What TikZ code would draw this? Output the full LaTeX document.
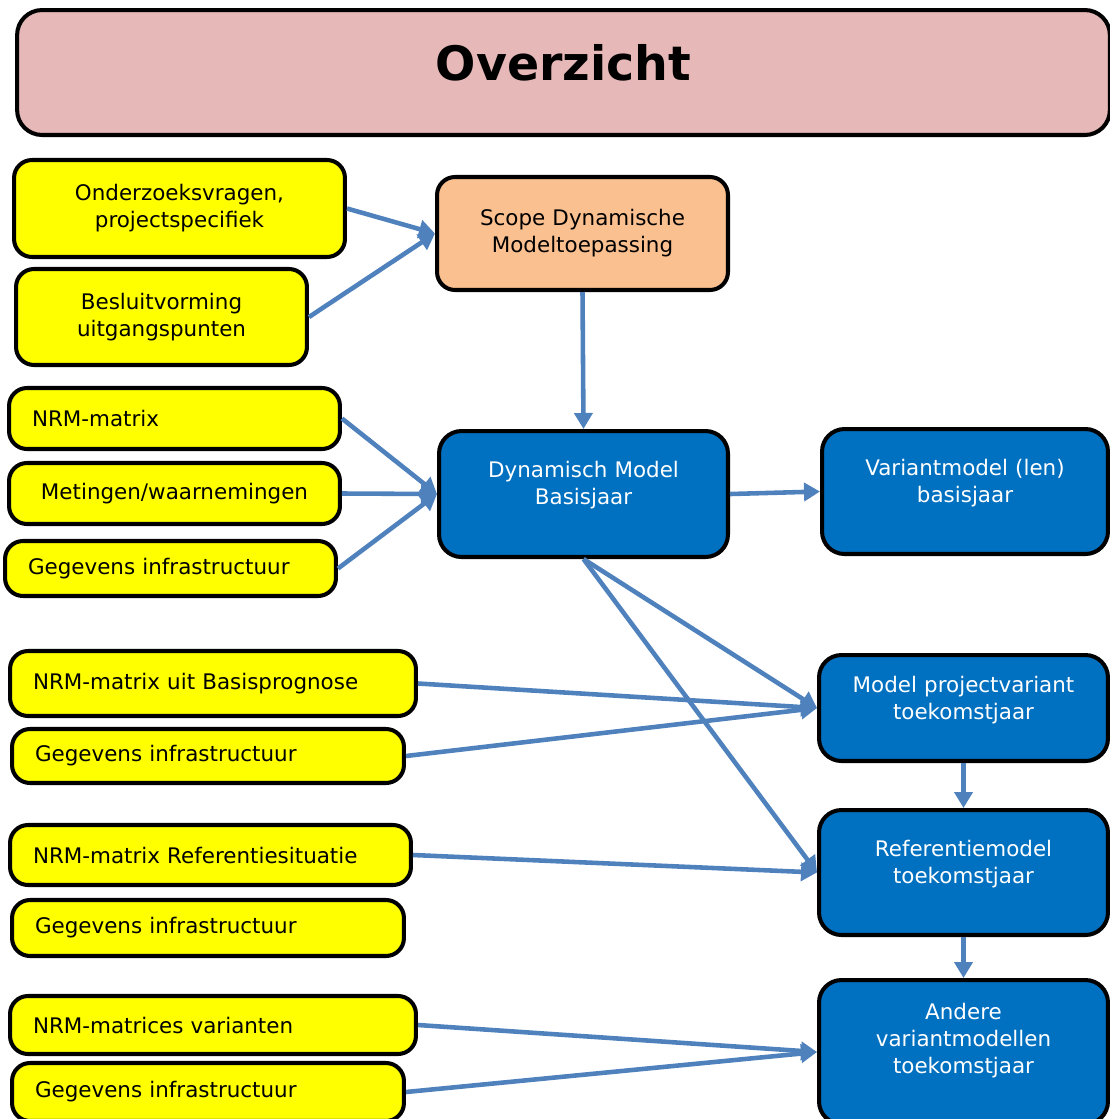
\documentclass[tikz,border=0pt]{standalone}
\usepackage{fontspec}
\setmainfont{DejaVu Sans}
\usepackage{tikz}
\usetikzlibrary{arrows.meta}
\definecolor{titlepink}{HTML}{E6B8B7}
\definecolor{boxyellow}{HTML}{FFFF00}
\definecolor{scopeorange}{HTML}{FAC090}
\definecolor{modelblue}{HTML}{0070C0}
\definecolor{arrowblue}{HTML}{4F81BD}
\tikzstyle{title box}=[draw=black,line width=2.3pt,fill=titlepink,rounded corners=0.5cm,inner sep=0pt,font=\bfseries\fontsize{27}{32}\selectfont]
\tikzstyle{yellow box}=[draw=black,line width=2.3pt,fill=boxyellow,rounded corners=0.36cm,inner xsep=0.46cm,inner ysep=0pt]
\tikzstyle{scope box}=[draw=black,line width=2.3pt,fill=scopeorange,rounded corners=0.36cm,inner xsep=0.2cm,inner ysep=0pt,align=center]
\tikzstyle{blue box}=[draw=black,line width=2.3pt,fill=modelblue,text=white,rounded corners=0.45cm,inner sep=0pt,align=center,anchor=north]
\tikzstyle{edge} = [draw,line width=2.6pt,arrowblue,-{Triangle[length=0.32cm,width=0.36cm]}]

\begin{document}
\begin{tikzpicture}[x=0.02cm,y=-0.02cm,font=\fontsize{12.2}{15.4}\selectfont]
        \useasboundingbox (0,0) rectangle (1109,1119);
        \node[title box,anchor=north,minimum width=21.86cm,text height=1.4cm,text depth=1.1cm] (title) at (563.5,8) {Overzicht};
        % inputs
        \node[yellow box,align=center,text width=5.70cm,minimum height=1.94cm] (vragen) at (179.5,208.5) {Onderzoeksvragen,\\projectspecifiek};
        \node[yellow box,align=center,text width=4.90cm,minimum height=1.92cm] (besluit) at (161.5,317) {Besluitvorming\\uitgangspunten};
        \node[yellow box,align=left,text width=5.70cm,minimum height=1.22cm] (nrm) at (174.5,418.5) {NRM-matrix};
        \node[yellow box,align=center,text width=5.70cm,minimum height=1.22cm] (metingen) at (174.5,493.5) {Metingen/waarnemingen};
        \node[yellow box,align=left,text width=5.70cm,minimum height=1.10cm] (infra) at (170.5,568.5) {Gegevens infrastructuur};
        \node[yellow box,align=left,text width=7.20cm,minimum height=1.30cm] (nrmprog) at (213,683.5) {NRM-matrix uit Basisprognose};
        \node[yellow box,align=left,text width=6.92cm,minimum height=1.08cm] (infraprog) at (208,756) {Gegevens infrastructuur};
        \node[yellow box,align=left,text width=7.10cm,minimum height=1.20cm] (nrmref) at (210.5,855) {NRM-matrix Referentiesituatie};
        \node[yellow box,align=left,text width=6.92cm,minimum height=1.12cm] (infraref) at (208,928) {Gegevens infrastructuur};
        \node[yellow box,align=left,text width=7.20cm,minimum height=1.16cm] (nrmvar) at (213,1025) {NRM-matrices varianten};
        \node[yellow box,align=left,text width=6.92cm,minimum height=1.16cm] (infravar) at (208,1092) {Gegevens infrastructuur};
        % models
        \node[scope box,text width=5.42cm,minimum height=2.26cm] (scope) at (582.5,233.5) {Scope Dynamische\\Modeltoepassing};
        \node[blue box,text width=5.78cm,text height=0.92cm,text depth=1.60cm] (basis) at (583.5,429) {Dynamisch Model\\Basisjaar};
        \node[blue box,text width=5.72cm,text height=0.92cm,text depth=1.58cm] (variant) at (965,427) {Variantmodel (len)\\basisjaar};
        \node[blue box,text width=5.78cm,text height=0.74cm,text depth=1.38cm] (project) at (963.5,653) {Model projectvariant\\toekomstjaar};
        \node[blue box,text width=5.78cm,text height=0.92cm,text depth=1.58cm] (referentie) at (963.5,808) {Referentiemodel\\toekomstjaar};
        \node[blue box,text width=5.78cm,text height=0.78cm,text depth=2.10cm] (andere) at (963.5,978) {Andere\\variantmodellen\\toekomstjaar};
        \draw[edge] (vragen.east) to (scope.west);
        \draw[edge] (besluit.east) to (scope.west);
        \draw[edge] (scope.south) to (basis.north);
        \draw[edge] (nrm.east) to (basis.west);
        \draw[edge] (metingen.east) to (basis.west);
        \draw[edge] (infra.east) to (basis.west);
        \draw[edge] (basis.east) to (variant.west);
        \draw[edge] (basis.south) to (project.west);
        \draw[edge] (basis.south) to (referentie.west);
        \draw[edge] (nrmprog.east) to (project.west);
        \draw[edge] (infraprog.east) to (project.west);
        \draw[edge] (nrmref.east) to (referentie.west);
        \draw[edge] (project.south) to (referentie.north);
        \draw[edge] (referentie.south) to (andere.north);
        \draw[edge] (nrmvar.east) to (andere.west);
        \draw[edge] (infravar.east) to (andere.west);
      \end{tikzpicture}
\end{document}
